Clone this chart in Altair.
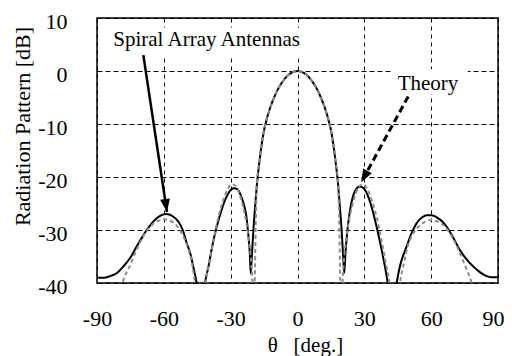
import math
import altair as alt
import pandas as pd

# ---- data ----
theta_spiral = [-90, -87, -84.2, -81, -78.2, -75, -72.2, -69.5, -67.7, -65.5, -63.2, -61, -59, -56, -53.5, -51.5,
                -49.7, -48, -46.8, -45.3, -44.2, -43.4, -42.5, -41.5, -40, -38, -36.3, -34.5, -32.5, -30.5,
                -28.8, -27, -25.5, -24, -23, -22.1, -21.4, -21, -20.5, -19.8, -19, -18.3, -17, -15.3, -13.5,
                -12, -10.5, -9, -7, -5, -3, 0, 3, 5, 7, 9, 10.5, 12, 13.5, 15.3, 17, 18.3, 19, 19.8,
                20.5, 21, 21.5, 22.3, 23.3, 24.5, 26, 28, 30, 32, 34, 36, 37.8, 39.3, 40.5, 41.7, 43,
                44.5, 46, 49, 51, 53.5, 56, 58, 60.2, 62.5, 65, 67, 70, 72.9, 76, 78.9, 82, 84.9, 87, 90]
db_spiral = [-39.0, -39.0, -38.7, -38.1, -36.9, -35.2, -33.1, -31.2, -30.0, -28.8, -27.8, -27.2, -27.0, -27.4, -28.4, -30.0,
             -32.5, -34.6, -36.9, -40.0, -44.0, -47.0, -44.0, -40.0, -37.0, -32.5, -29.5, -26.8, -24.3, -22.7,
             -22.1, -22.3, -23.4, -25.3, -27.3, -30.8, -34.5, -38.2, -35.0, -30.0, -25.5, -21.8, -16.8, -11.8, -8.6,
             -6.6, -5.0, -3.6, -2.2, -1.1, -0.4, 0.0, -0.4, -1.1, -2.2, -3.6, -5.0, -6.6, -8.6, -11.8, -16.8, -21.8, -25.5, -30.0,
             -35.0, -38.1, -34.5, -30.5, -27.0, -24.3, -22.5, -21.8, -22.3, -24.0, -26.8, -30.3, -33.8, -37.0, -40.0, -44.0, -44.0,
             -40.0, -36.8, -33.1, -30.8, -28.7, -27.6, -27.2, -27.2, -27.6, -28.4, -29.4, -31.5, -33.8, -35.6, -36.9, -38.0, -38.7, -38.9, -38.9]

theta_theory = [-90, -84, -81, -78.5, -75, -72, -69, -65, -62, -60, -57, -54, -51.5, -49.5, -48, -46, -44.5,
                -43.5, -42.3, -41.3, -39.5, -37.5, -35.5, -33.5, -31.5, -29.5, -28, -26.2, -24.5, -23, -21.8,
                -20.8, -20, -19.6, -19.2, -18.8, -18.3, -17, -15.3, -13.5, -12, -10.5, -9, -7, -5, -3, 0,
                3, 5, 7, 9, 10.5, 12, 13.5, 15.3, 17, 18.3, 18.8, 19.2, 19.6, 20, 20.8, 21.8, 23, 24.5,
                26.2, 28, 29.5, 31.5, 33.5, 35.5, 37.5, 39.5, 41.3, 42.3, 43.5, 44.5, 46, 48, 49.5, 51.5,
                54, 57, 60, 62, 65, 69, 72, 75, 78.2, 81, 84, 90]
db_theory = [-50, -48, -45, -40.0, -36.5, -33.5, -31.0, -28.9, -28.2, -28.0, -28.3, -29.3, -31.0, -33.0, -35.0, -40.0, -45.0,
             -48.0, -44.0, -40.0, -36.0, -31.5, -27.5, -24.6, -22.4, -21.4, -21.6, -23.0, -25.5, -28.5, -32.0,
             -36.0, -42.0, -48.0, -40.0, -30.0, -21.8, -16.8, -11.8, -8.6, -6.6, -5.0, -3.6, -2.2, -1.1, -0.4, 0.0,
             -0.4, -1.1, -2.2, -3.6, -5.0, -6.6, -8.6, -11.8, -16.8, -21.8, -30.0, -40.0, -48.0, -42.0, -36.0, -32.0, -28.5, -25.5,
             -23.0, -21.6, -21.4, -22.4, -24.6, -27.5, -31.5, -36.0, -40.0, -44.0, -48.0, -45.0, -40.0, -35.8, -33.0, -31.0,
             -29.5, -28.5, -28.1, -28.3, -28.9, -31.0, -33.5, -36.5, -40.0, -45.0, -48.0, -50]

x_ticks = [-90, -60, -30, 0, 30, 60, 90]
y_ticks = [-40, -30, -20, -10, 0, 10]

label_text = ["Spiral Array Antennas", "Theory"]
label_theta = [-40.8, 58.6]
label_db = [5.8, -2.4]

# white boxes behind the labels (data units)
box_x1 = [-87, 42.4]
box_x2 = [3, 76.5]
box_y1 = [8.2, 0.4]
box_y2 = [2.4, -4.4]

# arrows: start and tip (data units)
arrow_x0 = [-69.2, 49.7]
arrow_y0 = [3.0, -4.8]
arrow_x1 = [-58.6, 28.6]
arrow_y1 = [-26.6, -21.0]

W, H = 401, 265
XDOM, YDOM = [-90, 90], [-40, 10]
px_x = W / (XDOM[1] - XDOM[0])
px_y = H / (YDOM[1] - YDOM[0])

FONT = "Liberation Serif"

spiral_df = pd.DataFrame({"theta": theta_spiral, "db": db_spiral})
theory_df = pd.DataFrame({"theta": theta_theory, "db": db_theory})
label_df = pd.DataFrame({"theta": label_theta, "db": label_db, "text": label_text})
box_df = pd.DataFrame({"x1": box_x1, "x2": box_x2, "y1": box_y1, "y2": box_y2})

shaft_rows = []
head_rows = []
for i in range(2):
    shaft_rows.append({"id": i, "ord": 0, "theta": arrow_x0[i], "db": arrow_y0[i]})
    shaft_rows.append({"id": i, "ord": 1, "theta": arrow_x1[i], "db": arrow_y1[i]})
    dx = (arrow_x1[i] - arrow_x0[i]) * px_x
    dy = -(arrow_y1[i] - arrow_y0[i]) * px_y
    ang = math.degrees(math.atan2(dx, -dy)) % 360
    head_rows.append({"id": i, "theta": arrow_x1[i], "db": arrow_y1[i], "angle": ang})
shaft_df = pd.DataFrame(shaft_rows)
head_df = pd.DataFrame(head_rows)

xs = alt.Scale(domain=XDOM, nice=False, zero=False)
ys = alt.Scale(domain=YDOM, nice=False, zero=False)

x_axis = alt.Axis(values=x_ticks, grid=True, gridDash=[4, 4], gridColor="black", gridWidth=1,
                  gridOpacity=1, domain=False, ticks=False, labelFont=FONT, labelFontSize=22,
                  labelColor="black", labelPadding=25, labelFlush=False,
                  labelExpr="'' + datum.value",
                  labelAlign=alt.expr("datum.value == 90 ? 'right' : 'center'"),
                  labelOffset=alt.expr("datum.value == 90 ? 6 : 0"),
                  title="θ\u00a0\u00a0\u00a0[deg.]", titleFont=FONT, titleFontSize=21, titleFontWeight="normal",
                  titleColor="black", titleX=208, titleY=62, titleBaseline="middle", titleAlign="center")
y_axis = alt.Axis(values=y_ticks, grid=True, gridDash=[5, 3], gridColor="black", gridWidth=1,
                  gridOpacity=1, domain=False, ticks=False, labelFont=FONT, labelFontSize=22,
                  labelColor="black", labelPadding=30, labelBaseline="middle", labelOffset=3,
                  labelFlush=False, labelExpr="'' + datum.value",
                  title="Radiation Pattern [dB]", titleFont=FONT, titleFontSize=22,
                  titleFontWeight="normal", titleColor="black", titleX=-75, titleY=108,
                  titleAngle=-90, titleAlign="center", titleBaseline="middle")

boxes = alt.Chart(box_df).mark_rect(fill="white", stroke=None).encode(
    x=alt.X("x1:Q", scale=xs, axis=x_axis),
    x2="x2:Q",
    y=alt.Y("y1:Q", scale=ys, axis=y_axis),
    y2="y2:Q",
)

spiral = alt.Chart(spiral_df).mark_line(color="black", strokeWidth=2, interpolate="monotone", clip=True).encode(
    x=alt.X("theta:Q", scale=xs), y=alt.Y("db:Q", scale=ys))

theory = alt.Chart(theory_df).mark_line(color="#8c8c8c", strokeWidth=2, strokeDash=[4, 3],
                                        interpolate="monotone", clip=True).encode(
    x=alt.X("theta:Q", scale=xs), y=alt.Y("db:Q", scale=ys))

shaft_solid = alt.Chart(shaft_df[shaft_df.id == 0]).mark_line(color="black", strokeWidth=2.5).encode(
    x=alt.X("theta:Q", scale=xs), y=alt.Y("db:Q", scale=ys), order="ord:O")
shaft_dash = alt.Chart(shaft_df[shaft_df.id == 1]).mark_line(color="black", strokeWidth=3,
                                                           strokeDash=[7, 4]).encode(
    x=alt.X("theta:Q", scale=xs), y=alt.Y("db:Q", scale=ys), order="ord:O")

heads = alt.Chart(head_df).mark_point(shape="M0,0L-0.38,1L0.38,1Z", filled=True, fill="black",
                                      color="black", opacity=1, size=676, strokeWidth=0).encode(
    x=alt.X("theta:Q", scale=xs), y=alt.Y("db:Q", scale=ys),
    angle=alt.Angle("angle:Q", scale=None))

labels = alt.Chart(label_df).mark_text(font=FONT, fontSize=21, color="black", align="center",
                                       baseline="middle").encode(
    x=alt.X("theta:Q", scale=xs), y=alt.Y("db:Q", scale=ys), text="text:N")

chart = alt.layer(boxes, spiral, theory, shaft_solid, shaft_dash, heads, labels).properties(
    width=W, height=H,
    autosize=alt.AutoSizeParams(type="none"),
    padding={"left": 89, "top": 10, "right": 6, "bottom": 73},
    background="white",
).configure_view(stroke="black", strokeWidth=1.5)

chart.save("out.html", embed_options={"renderer": "svg", "actions": False})
